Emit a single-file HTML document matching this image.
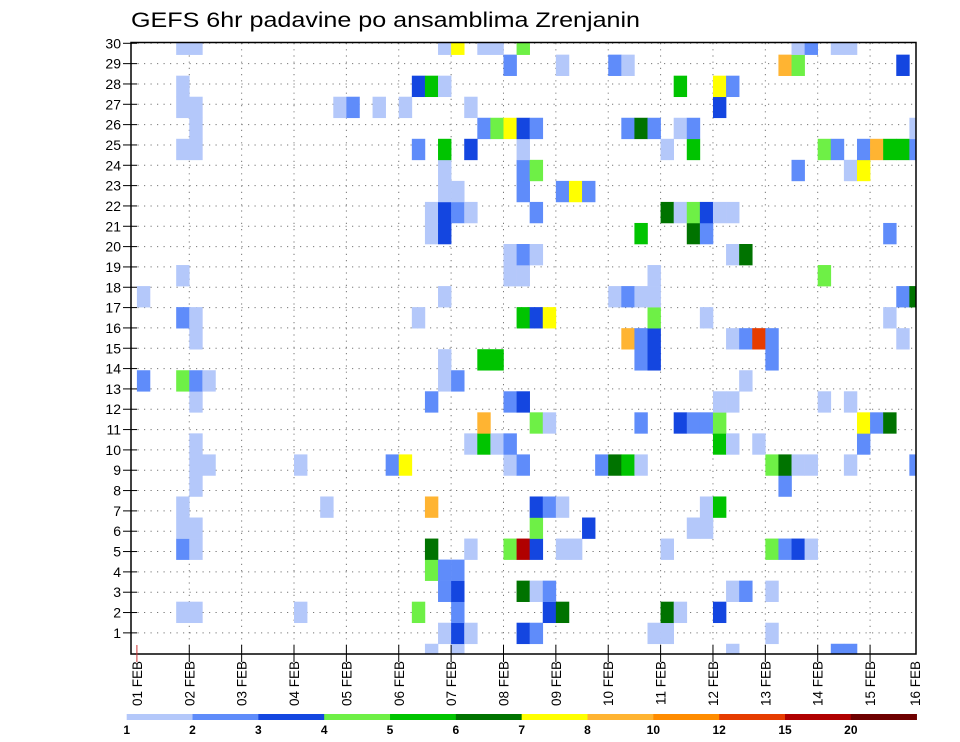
<!DOCTYPE html>
<html><head><meta charset="utf-8"><style>
html,body{margin:0;padding:0;background:#fff}
svg{display:block;font-family:"Liberation Sans",sans-serif}
</style></head><body>
<svg id="chart" width="960" height="742" viewBox="0 0 960 742" xmlns="http://www.w3.org/2000/svg">
<text x="131" y="27" font-size="21" textLength="509" lengthAdjust="spacingAndGlyphs" fill="#000">GEFS 6hr padavine po ansamblima Zrenjanin</text>
<g id="grid"></g>
<clipPath id="pc"><rect x="131" y="43" width="785" height="611"/></clipPath>
<g id="cells" clip-path="url(#pc)"></g>
<rect x="131" y="42.5" width="785" height="611.5" fill="none" stroke="#000" stroke-width="1.5"/>
<g id="axes"></g>
<g id="legend"></g>
</svg>
<script>
const dayLabels = ["01 FEB","02 FEB","03 FEB","04 FEB","05 FEB","06 FEB","07 FEB","08 FEB","09 FEB","10 FEB","11 FEB","12 FEB","13 FEB","14 FEB","15 FEB","16 FEB"];
const memberTicks = [1,2,3,4,5,6,7,8,9,10,11,12,13,14,15,16,17,18,19,20,21,22,23,24,25,26,27,28,29,30];
const levelLabels = ["1","2","3","4","5","6","7","8","10","12","15","20"];
const levelBounds = [1,2,3,4,5,6,7,8,10,12,15,20];
const levelColors = ["#b4c8fa","#5f8cfa","#1446e0","#6ef046","#00c400","#007300","#ffff00","#ffb432","#ff8c00","#e63c00","#b00000","#6e0000"];
// encoded rows: member -> "step:class" ; class letters map to representative values
const classValue = {a:1.5,b:2.5,c:3.5,d:4.5,e:5.5,f:6.5,g:7.5,h:9,i:11,j:13.5,k:17,l:22};
const rowData = {
30:"3a 4a 23a 24g 26a 27a 29d 50a 51b 53a 54a",
29:"28b 32a 36b 37a 49h 50d 58c",
28:"3a 21c 22e 23a 41e 44g 45b",
27:"3a 4a 15a 16b 18a 20a 25a 44c",
26:"4a 26b 27d 28g 29c 30b 37b 38f 39b 41a 42b 59a",
25:"3a 4a 21b 23e 25c 29a 40a 42e 52d 53b 55b 56h 57e 58e 59b",
24:"23a 29b 30d 50b 54a 55g",
23:"23a 24a 29b 32b 33g 34b",
22:"22a 23c 24b 25a 30b 40f 41a 42d 43c 44a 45a",
21:"22a 23c 38e 42f 43b 57b",
20:"28a 29b 30a 45a 46f",
19:"3a 28a 29a 39a 52d",
18:"0a 23a 36a 37b 38a 39a 58b 59f",
17:"3b 4a 21a 29e 30c 31g 39d 43a 57a",
16:"4a 37h 38b 39c 45a 46b 47j 48b 58a",
15:"23a 26e 27e 38b 39c 48b",
14:"0b 3d 4b 5a 23a 24b 46a",
13:"4a 22b 28b 29c 44a 45a 52a 54a",
12:"26h 30d 31a 38b 41c 42b 43b 44d 55g 56b 57f",
11:"4a 25a 26e 27a 28b 44e 45a 47a 55b",
10:"4a 5a 12a 19b 20g 28a 29b 35b 36f 37e 38a 48d 49f 50a 51a 54a 59b",
9:"4a 49b",
8:"3a 14a 22h 30c 31b 32a 43a 44e",
7:"3a 4a 30d 34c 42a 43a",
6:"3b 4a 22f 25a 28d 29k 30c 32a 33a 40a 48d 49b 50c 51a",
5:"22d 23b 24b",
4:"23b 24c 29f 30a 31b 45a 46b 48a",
3:"3a 4a 12a 21d 24b 31c 32f 40f 41a 44c",
2:"23a 24c 25a 29c 30b 39a 40a 48a",
1:"22a 24a 45a 53b 54b"
};
const cellMember = [], cellStep = [], cellValue = [];
for (const m in rowData) {
  rowData[m].split(" ").forEach(t => {
    cellMember.push(+m);
    cellStep.push(parseInt(t));
    cellValue.push(classValue[t.slice(-1)]);
  });
}
const NS = "http://www.w3.org/2000/svg";
function mk(tag, attrs, parent) { const e = document.createElementNS(NS, tag); for (const k in attrs) e.setAttribute(k, attrs[k]); parent.appendChild(e); return e; }
// axis functions
const X0 = 136.9, DAY = 52.37, STEP = DAY / 4;
function xDay(d) { return X0 + d * DAY; }
function xStep(s) { return X0 + s * STEP; }
function yTick(m) { return 43.3 + 20.33 * (30 - m); }
const ROWH = 21.04;
function yCellTop(m) { return 33.6 + ROWH * (30 - m); }
function colorFor(v) { let c = null; for (let i = 0; i < levelBounds.length; i++) if (v >= levelBounds[i]) c = levelColors[i]; return c; }

const grid = document.getElementById("grid");
memberTicks.forEach(m => {
  const l = mk("line", {x1: 131, x2: 916, y1: yTick(m), y2: yTick(m), stroke: "#777", "stroke-width": 1, "stroke-dasharray": "1.2,5.3"}, grid);
  
  
});
dayLabels.forEach((d, i) => {
  if (i === 0 || xDay(i) > 916) return;
  const l = mk("line", {x1: xDay(i), x2: xDay(i), y1: 43, y2: 654, stroke: "#777", "stroke-width": 1, "stroke-dasharray": "1.2,5"}, grid);
  
  
});

const cells = document.getElementById("cells");
for (let k = 0; k < cellValue.length; k++) {
  const r = mk("rect", {x: xStep(cellStep[k]), y: yCellTop(cellMember[k]), width: STEP + 0.3, height: ROWH + 0.3, fill: colorFor(cellValue[k])}, cells);
  
  
}

const axes = document.getElementById("axes");
memberTicks.forEach(m => {
  const y = yTick(m);
  const t = mk("line", {x1: 123, x2: 137, y1: y, y2: y, stroke: "#000", "stroke-width": 1}, axes);
  
  
  const lb = mk("text", {x: 121, y: y + 5, "font-size": 14, "text-anchor": "end", fill: "#000"}, axes);
  lb.textContent = m;
  
  
});
dayLabels.forEach((d, i) => {
  let x = xDay(i);
  if (x <= 916) {
    const t = mk("line", {x1: x, x2: x, y1: 645, y2: 662, stroke: i === 0 ? "#c33" : "#000", "stroke-width": 1}, axes);
    
    
  } else x = 915;
  const lb = mk("text", {x: 0, y: 0, "font-size": 13.5, "text-anchor": "end", fill: "#000", transform: `translate(${x + 5},661) rotate(-90)`}, axes);
  lb.textContent = d;
  
  
});

const legend = document.getElementById("legend");
const LX = 126.7, LW = 65.83;
levelColors.forEach((c, i) => {
  const r = mk("rect", {x: LX + i * LW, y: 714, width: LW + 0.3, height: 6, fill: c}, legend);
  
  
});
levelLabels.forEach((s, i) => {
  const t = mk("text", {x: LX + i * LW, y: 734, "font-size": 12, "font-weight": "bold", "text-anchor": "middle", fill: "#000"}, legend);
  t.textContent = s;
  
  
});
</script>
</body></html>
